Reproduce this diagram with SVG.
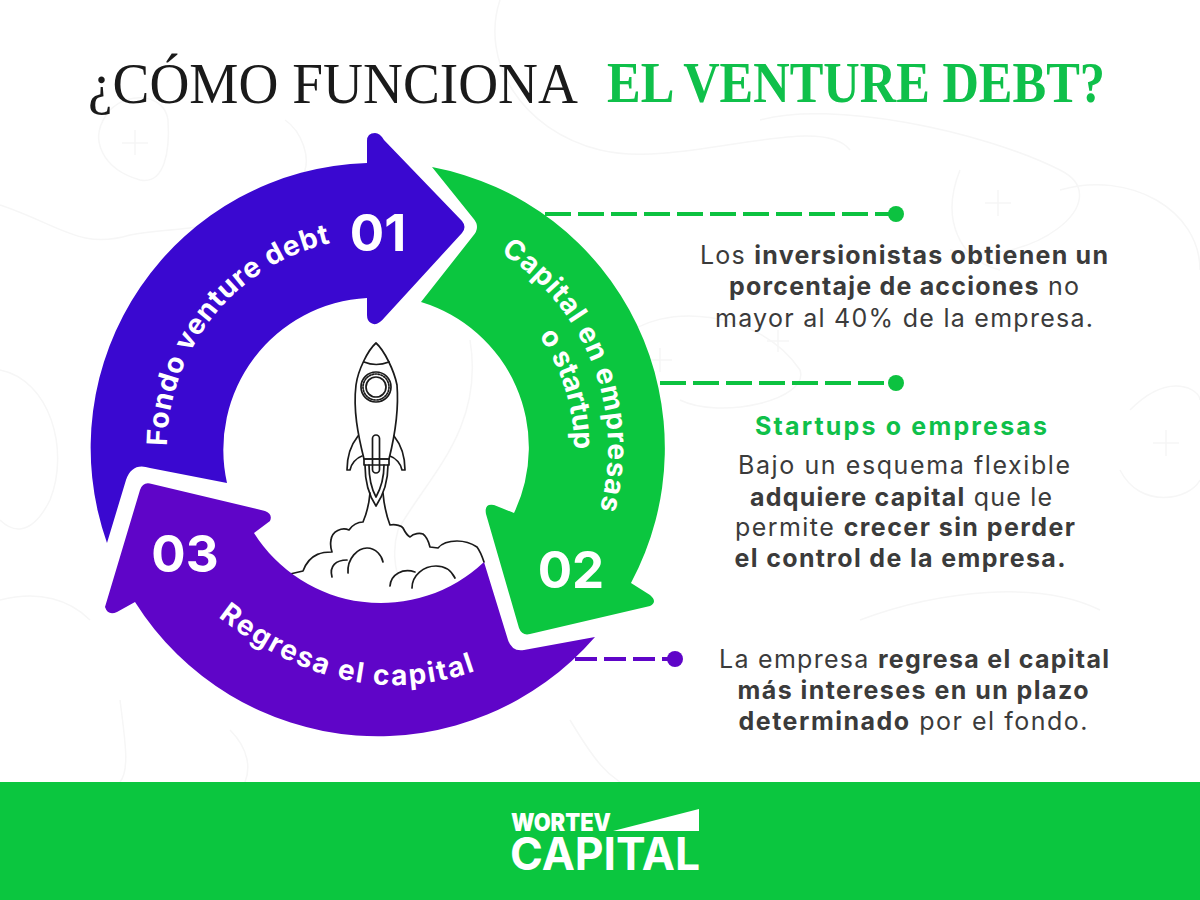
<svg xmlns="http://www.w3.org/2000/svg" width="1200" height="900" viewBox="0 0 1200 900">
<style>
.bg{fill:none;stroke:#f6f6f6;stroke-width:1.5}
.ln{fill:none;stroke:#1a1a1a;stroke-width:1.7;stroke-linecap:round;stroke-linejoin:round}
.lb{font-family:Inter,"Liberation Sans",sans-serif;font-weight:700;font-size:28px;fill:#fff}
.num{font-family:Inter,"Liberation Sans",sans-serif;font-weight:700;font-size:51px;fill:#fff;text-anchor:middle}
.tx{font-family:Inter,"Liberation Sans",sans-serif;font-weight:400;font-size:25px;fill:#3b3b3b;text-anchor:middle}
.tx tspan{font-weight:700}
.dg{fill:none;stroke:#0cc240;stroke-width:4;stroke-dasharray:26 7}
.dp{fill:none;stroke:#5f05c8;stroke-width:4;stroke-dasharray:22 7}
</style>
<rect width="1200" height="900" fill="#fff"/>
<g id="background">
<path class="bg" d="M110 110C85 140 105 170 140 180C165 185 170 150 168 120C165 95 130 90 110 110Z"/>
<path class="bg" d="M0 205C60 225 80 250 130 235C180 225 250 235 300 180C315 160 300 130 285 120"/>
<path class="bg" d="M500 0C480 60 520 130 600 150C680 170 820 110 850 150"/>
<path class="bg" d="M760 120C830 100 980 130 1060 170C1120 200 1030 270 950 250"/>
<path class="bg" d="M1060 190C1130 170 1200 210 1200 270"/>
<path class="bg" d="M960 170C940 220 960 260 1000 270"/>
<path class="bg" d="M0 370C50 380 70 450 50 500C30 540 10 530 0 520"/>
<path class="bg" d="M620 340C660 300 760 310 800 370C810 400 720 420 680 400"/>
<path class="bg" d="M1130 410C1170 370 1200 390 1200 400M1120 470C1140 510 1190 500 1200 480"/>
<path class="bg" d="M470 340C485 430 425 480 398 530C392 550 395 570 400 580"/>
<path class="bg" d="M570 720C600 770 610 775 620 782M860 620C940 590 1040 580 1100 610"/>
<path class="bg" d="M0 600C40 590 70 600 90 620M120 700C125 740 130 770 120 782M230 730C250 750 250 770 245 782"/>
<path class="bg" d="M135 130V155M122 143H148M998 190V216M985 203H1011M1166 430V456M1153 443H1179M660 348V372M648 360H672M778 330V352M767 341H789"/>
</g>
<g id="title">
<text x="88" y="103" font-family="'Liberation Serif',serif" font-size="58" fill="#1a1a1a" textLength="490" lengthAdjust="spacingAndGlyphs">¿CÓMO FUNCIONA</text>
<text x="607" y="102" font-family="'Liberation Serif',serif" font-weight="700" font-size="57" fill="#0fc04a" textLength="498" lengthAdjust="spacingAndGlyphs">EL VENTURE DEBT?</text>
</g>
<g id="rocket">
<path class="ln" d="M376 343C368 350 358 370 356 385C353 410 358 435 364 459H389C395 435 399 410 397 385C394 370 384 350 376 343Z"/>
<path class="ln" d="M364 362Q376 367 389 362"/>
<circle class="ln" cx="376" cy="387" r="10"/>
<circle class="ln" cx="376" cy="387" r="13" stroke-width="1" stroke-dasharray="1.5 1.5"/>
<circle class="ln" cx="376" cy="387" r="15"/>
<path class="ln" d="M364 459H389V465H364Z"/>
<path class="ln" d="M358 436C350 446 347 458 347 470H350C351 464 356 458 362 456"/>
<path class="ln" d="M394 436C402 446 405 458 405 470H402C401 464 396 458 390 456"/>
<path class="ln" d="M365 465C365 480 368 494 376 506C384 494 388 480 388 465M369 465C369 476 371 488 376 497C381 488 384 476 384 465"/>
<rect class="ln" x="372.5" y="435" width="7" height="38" rx="3.5" fill="#fff"/>
<path class="ln" d="M370 493C369 505 366 515 363 522C358 522 352 525 349 530C342 527 332 531 331 540C330 545 331 549 332 552C325 552 310 552 303 571L290 574"/>
<path class="ln" d="M383 493C384 505 387 517 390 525C396 524 402 526 403 528C405 532 408 536 410 537C414 533 420 533 423 534C427 537 429 543 430 547L438 548C443 542 450 541 457 541C466 541 474 545 477 547C480 551 482 556 484 562"/>
<path class="ln" d="M332 577C329 566 336 560 347 560M348 573C347 558 358 548 367 548C376 548 382 556 383 562"/>
<path class="ln" d="M390 586C391 574 403 568 415 572M412 588C412 575 424 566 436 566C446 566 452 572 455 578"/>
</g>
<g id="connectors">
<path class="dg" d="M545 214H892"/>
<path class="dg" d="M660 383H892"/>
<path class="dp" d="M575 659H672"/>
<circle cx="896" cy="214" r="8" fill="#0cc240"/>
<circle cx="896" cy="383" r="8" fill="#0cc240"/>
<circle cx="675" cy="659" r="8" fill="#5f05c8"/>
</g>
<g id="node-01">
<path fill="#3a08d0" d="M107 543A285 285 0 0 1 367 163L367 141Q367 133 375 133Q380 133 384 140L462 221Q467 227 462 233L385 317Q377 327 371 323Q367 321 367 315L367 298A152 152 0 0 0 227 483L150 468Q132 462 126 480Z"/>
<path id="p1" fill="none" d="M167 446A210 210 0 0 1 329 243.5"/>
<text class="lb"><textPath href="#p1" textLength="281" lengthAdjust="spacing">Fondo venture debt</textPath></text>
<text class="num" x="378" y="251">01</text>
</g>
<g id="node-02">
<path fill="#0bc63f" d="M432 167A286 286 0 0 1 631 583L650 595Q658 602 650 606L530 634Q522 636 519 628L486 514Q484 503 494 505L514 513A152 152 0 0 0 421 302L473 236Q481 227 473 218Z"/>
<path id="p2" fill="none" d="M500.4 252.7A231 231 0 0 1 599.6 509.8"/>
<path id="p2b" fill="none" d="M538.8 335.6A197 197 0 0 1 574 450"/>
<text class="lb"><textPath href="#p2" textLength="295" lengthAdjust="spacing">Capital en empresas</textPath></text>
<text class="lb"><textPath href="#p2b" textLength="121" lengthAdjust="spacing">o startup</textPath></text>
<text class="num" x="571" y="588">02</text>
</g>
<g id="node-03">
<path fill="#5f05c8" d="M152 484L265 511Q273 514 270 521L254 533A150 150 0 0 0 484 562L508 640Q512 652 524 650L595 637A287 287 0 0 1 135 602L117 612Q108 616 105 607L140 490Q143 481 152 484Z"/>
<path id="p3" fill="none" d="M218 617Q345 715 472 672"/>
<text class="lb"><textPath href="#p3" textLength="275" lengthAdjust="spacing">Regresa el capital</textPath></text>
<text class="num" x="185" y="572">03</text>
</g>
<g id="note-1">
<text class="tx" x="904" y="264" textLength="408">Los <tspan>inversionistas obtienen un</tspan></text>
<text class="tx" x="904" y="295" textLength="350"><tspan>porcentaje de acciones</tspan> no</text>
<text class="tx" x="904" y="327" textLength="378">mayor al 40% de la empresa.</text>
</g>
<g id="note-2">
<text class="tx" x="901" y="435" textLength="292" style="font-weight:700;fill:#0fc04a">Startups o empresas</text>
<text class="tx" x="904" y="474" textLength="332">Bajo un esquema flexible</text>
<text class="tx" x="901" y="506" textLength="302"><tspan>adquiere capital</tspan> que le</text>
<text class="tx" x="905" y="536" textLength="340">permite <tspan>crecer sin perder</tspan></text>
<text class="tx" x="900" y="567" textLength="331"><tspan>el control de la empresa.</tspan></text>
</g>
<g id="note-3">
<text class="tx" x="914" y="668" textLength="390">La empresa <tspan>regresa el capital</tspan></text>
<text class="tx" x="913" y="699" textLength="351"><tspan>más intereses en un plazo</tspan></text>
<text class="tx" x="913" y="730" textLength="349"><tspan>determinado</tspan> por el fondo.</text>
</g>
<g id="footer">
<rect y="782" width="1200" height="118" fill="#0bc63f"/>
<text x="511" y="831" font-family="Inter,'Liberation Sans',sans-serif" font-weight="900" font-size="24" fill="#fff" textLength="100" lengthAdjust="spacingAndGlyphs">WORTEV</text>
<path fill="#fff" d="M613 831L699 809V831Z"/>
<text x="510" y="870" font-family="Inter,'Liberation Sans',sans-serif" font-weight="700" font-size="45" fill="#fff" textLength="190" lengthAdjust="spacingAndGlyphs">CAPITAL</text>
</g>
</svg>
